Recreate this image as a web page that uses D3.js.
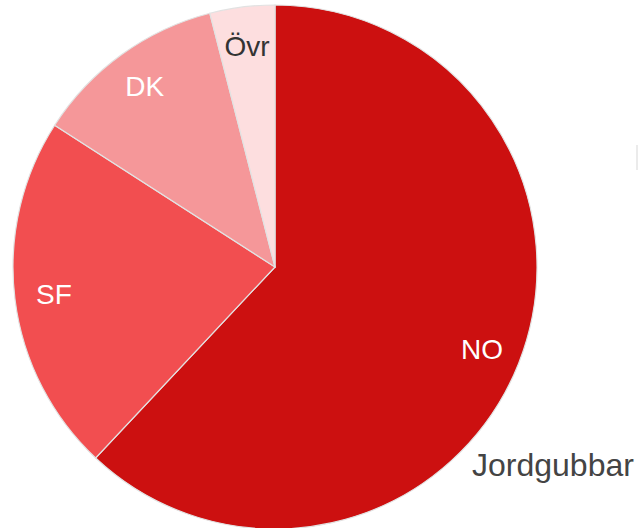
<!DOCTYPE html>
<html>
<head>
<meta charset="utf-8">
<script src="https://cdn.jsdelivr.net/npm/d3@7"></script>
<style>
  body { margin: 0; background: #fff; }
  svg { display: block; font-family: "Liberation Sans", Arial, sans-serif; }
</style>
</head>
<body>
<div id="chart"></div>
<script>
// Data (shares in percent)
const categories = ["NO", "SF", "DK", "Övr"];
const values = [62.0, 22.1, 11.9, 4.0];
const sliceColors = ["#cc1010", "#f24e50", "#f59799", "#fddedf"];
const labelColors = ["#ffffff", "#ffffff", "#ffffff", "#333333"];
const seriesName = "Jordgubbar";

const width = 638, height = 528;
const cx = 275, cy = 267, radius = 262;

const svg = d3.select("#chart").append("svg")
    .attr("width", width)
    .attr("height", height);

const data = categories.map((c, i) => ({name: c, value: values[i], i: i}));

const pie = d3.pie()
    .sort(null)
    .value(d => d.value);

const arc = d3.arc()
    .innerRadius(0)
    .outerRadius(radius);

const labelArc = d3.arc()
    .innerRadius(radius * 0.85)
    .outerRadius(radius * 0.85);

const g = svg.append("g")
    .attr("transform", `translate(${cx},${cy})`);

// Slices
g.selectAll("path")
    .data(pie(data))
    .join("path")
    .attr("d", arc)
    .attr("fill", d => sliceColors[d.data.i])
    .attr("stroke", "#e2e2e2")
    .attr("stroke-width", 1.2);

// Slice labels
g.selectAll("text.label")
    .data(pie(data))
    .join("text")
    .attr("class", "label")
    .attr("transform", d => `translate(${labelArc.centroid(d)})`)
    .attr("text-anchor", "middle")
    .attr("dy", "0.35em")
    .attr("font-size", 28)
    .attr("fill", d => labelColors[d.data.i])
    .text(d => d.data.name);

// Series name
svg.append("text")
    .attr("x", 472)
    .attr("y", 476)
    .attr("font-size", 32)
    .attr("fill", "#444")
    .text(seriesName);

// Faint clipped mark at the right edge
svg.append("line")
    .attr("x1", 637).attr("x2", 637)
    .attr("y1", 145).attr("y2", 170)
    .attr("stroke", "#e4e4e4")
    .attr("stroke-width", 1.5);
</script>
</body>
</html>
